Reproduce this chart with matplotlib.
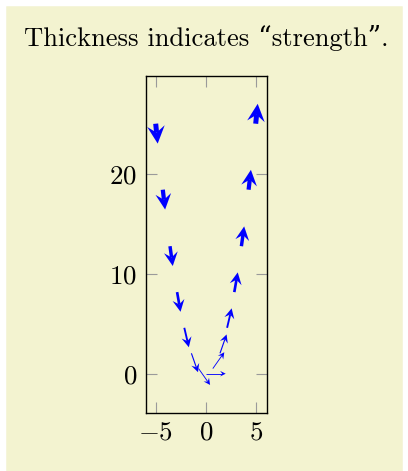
import numpy as np
import matplotlib
matplotlib.use("Agg")
import matplotlib.pyplot as plt
from matplotlib.patches import Polygon, Rectangle

# --- data: 15 samples on y = x^2, arrows along the tangent ---
xs = [-5, -4.29, -3.57, -2.86, -2.14, -1.43, -0.71, 0, 0.71, 1.43, 2.14, 2.86, 3.57, 4.29, 5]
ys = [25, 18.4, 12.75, 8.16, 4.59, 2.04, 0.51, 0, 0.51, 2.04, 4.59, 8.16, 12.75, 18.4, 25]
us = [0.199, 0.231, 0.277, 0.344, 0.455, 0.660, 1.150, 2.0,
      1.150, 0.660, 0.455, 0.344, 0.277, 0.231, 0.199]
vs = [-1.990, -1.986, -1.981, -1.970, -1.946, -1.888, -1.636, 0.0,
      1.636, 1.888, 1.946, 1.970, 1.981, 1.986, 1.990]
# "strength" of each arrow -> line thickness
strength = [10.05, 8.64, 7.21, 5.81, 4.40, 3.03, 1.74, 1.0,
            1.74, 3.03, 4.40, 5.81, 7.21, 8.64, 10.05]

xticks = [-5, 0, 5]
yticks = [0, 10, 20]
title = "Thickness indicates \u201cstrength\u201d."

BG = '#F3F3D0'
BLUE = '#0000FF'
DPI = 180

plt.rcParams['font.family'] = ['cmr10', 'DejaVu Serif']
plt.rcParams['mathtext.fontset'] = 'cm'
plt.rcParams['axes.formatter.use_mathtext'] = True

fig = plt.figure(figsize=(408 / DPI, 471 / DPI), dpi=DPI)
fig.patch.set_facecolor('white')
fig.patches.append(Rectangle((7 / 408, 0), 394 / 408, 464 / 471,
                             transform=fig.transFigure, color=BG, zorder=-10))

ax = fig.add_axes([145.7 / 408, 1 - 413.3 / 471, 121.6 / 408, 337.3 / 471])
ax.set_facecolor('none')
ax.set_xlim(-6.0, 6.16)
ax.set_ylim(-3.96, 29.77)
ax.set_xticks(xticks)
ax.set_yticks(yticks)
ax.tick_params(direction='in', length=4.3, width=0.45, color='#9a9a9a',
               top=True, right=True, labelsize=10.8)
ax.tick_params(axis='x', pad=3.0)
ax.tick_params(axis='y', pad=3.5)
for s in ax.spines.values():
    s.set_linewidth(0.55)
    s.set_color('black')


def stealth_arrow(ax, x, y, u, v, lw):
    """Shaft + tikz-like 'stealth' head, tip exactly at (x+u, y+v)."""
    px = DPI / 72.0
    S = ax.transData.transform((x, y))
    T = ax.transData.transform((x + u, y + v))
    d = (T - S) / np.hypot(*(T - S))
    n = np.array([-d[1], d[0]])
    a = (0.28 + 0.3 * lw) * px
    O = T - 5 * a * d
    B1 = O - 3 * a * d + 4 * a * n
    B2 = O - 3 * a * d - 4 * a * n
    inv = ax.transData.inverted()
    o = inv.transform(O)
    ax.plot([x, o[0]], [y, o[1]], color=BLUE, lw=max(lw, 0.35),
            solid_capstyle='butt', clip_on=False)
    head = inv.transform(np.array([T, B1, O, B2]))
    ax.add_patch(Polygon(head, closed=True, facecolor=BLUE,
                         edgecolor='none', clip_on=False))


smin, smax = min(strength), max(strength)
for x, y, u, v, s in zip(xs, ys, us, vs, strength):
    lw = 2.0 * (s - smin) / (smax - smin)
    stealth_arrow(ax, x, y, u, v, lw)

fig.text(206 / 408, 1 - 38 / 471, title, ha='center', va='center', fontsize=10.65)

fig.savefig('out.png', dpi=DPI, facecolor=fig.get_facecolor())
